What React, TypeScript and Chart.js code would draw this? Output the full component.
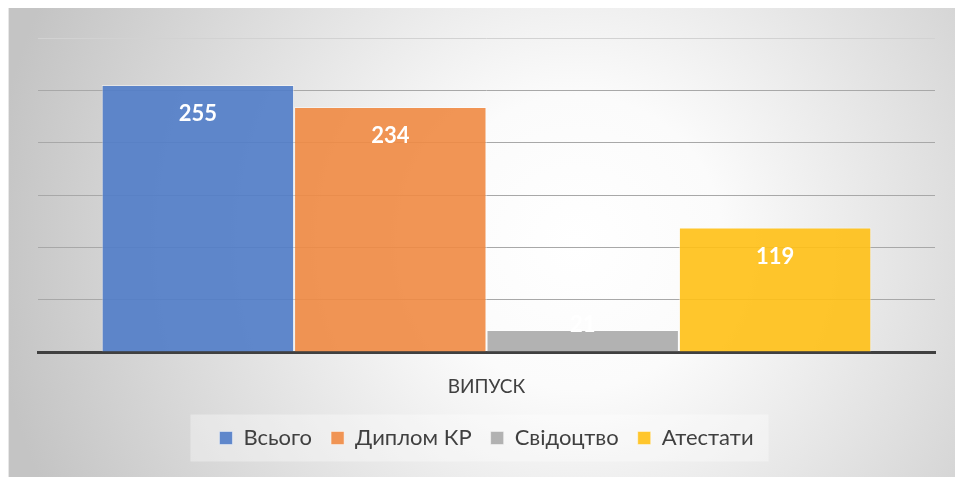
import React, { useEffect, useRef } from 'react';
import { Chart, registerables } from 'chart.js';

Chart.register(...registerables);

const categories = ['ВИПУСК'];
const seriesNames = ['Всього', 'Диплом КР', 'Свідоцтво', 'Атестати'];
const seriesValues = [255, 234, 21, 119];
const seriesColors = [
  'rgba(80,124,200,0.9)',
  'rgba(240,138,67,0.9)',
  'rgba(170,170,170,0.9)',
  'rgba(255,192,21,0.9)',
];
const yMin = 0;
const yMax = 300;
const yStep = 50;

const FONT = 'Lato, "Open Sans", sans-serif';

export default function App() {
  const ref = useRef<HTMLCanvasElement>(null);

  useEffect(() => {
    if (!ref.current) return;

    const bgPlugin = {
      id: 'bgPlugin',
      beforeDraw(chart: any) {
        const { ctx, width, height } = chart;
        ctx.save();
        const cx = width * 0.6;
        const cy = height * 0.5;
        const g = ctx.createRadialGradient(cx, cy, 0, cx, cy, width * 0.62);
        g.addColorStop(0, '#ffffff');
        g.addColorStop(0.25, '#fbfbfb');
        g.addColorStop(1, '#c4c4c4');
        ctx.fillStyle = g;
        ctx.fillRect(0, 0, width, height);
        ctx.fillStyle = 'rgba(255,255,255,0.6)';
        ctx.fillRect(0, 0, 1, height);

        const lg = chart.legend;
        if (lg && lg.legendHitBoxes && lg.legendHitBoxes.length) {
          const hb = lg.legendHitBoxes;
          const first = hb[0];
          const last = hb[hb.length - 1];
          const left = first.left - 29;
          const right = last.left + last.width + 15;
          const cyL = first.top + first.height / 2;
          ctx.fillStyle = 'rgba(255,255,255,0.35)';
          ctx.fillRect(left, cyL - 23.5, right - left, 47);
        }
        ctx.restore();
      },
    };

    const labelPlugin = {
      id: 'labelPlugin',
      afterDatasetsDraw(chart: any) {
        const { ctx } = chart;
        ctx.save();
        ctx.font = `bold 22px ${FONT}`;
        ctx.fillStyle = '#ffffff';
        ctx.textAlign = 'center';
        ctx.textBaseline = 'middle';
        chart.data.datasets.forEach((ds: any, i: number) => {
          const meta = chart.getDatasetMeta(i);
          meta.data.forEach((bar: any, j: number) => {
            const { x, y, base } = bar.getProps(['x', 'y', 'base'], true);
            const h = base - y;
            const ty = h > 40 ? y + 29 : y - 5;
            ctx.fillText(String(ds.data[j]), x, ty);
          });
        });
        ctx.restore();
      },
    };

    const chart = new Chart(ref.current, {
      type: 'bar',
      data: {
        labels: categories,
        datasets: seriesNames.map((name, i) => ({
          label: name,
          data: [seriesValues[i]],
          backgroundColor: seriesColors[i],
          borderColor: 'rgba(255,255,255,0.45)',
          borderWidth: 1,
          categoryPercentage: 0.858,
          barPercentage: 1.0,
        })),
      },
      options: {
        animation: false,
        responsive: true,
        maintainAspectRatio: false,
        layout: { padding: { left: 30, right: 20, top: 30, bottom: 18 } },
        plugins: {
          legend: {
            position: 'bottom',
            labels: {
              boxWidth: 13,
              boxHeight: 13,
              padding: 19,
              color: '#404040',
              font: { family: FONT, size: 22 },
            },
          },
          tooltip: { enabled: false },
        },
        scales: {
          x: {
            grid: { display: false },
            border: { display: true, color: '#404040', width: 3 },
            ticks: {
              color: '#404040',
              font: { family: FONT, size: 19 },
              padding: 15,
            },
            afterFit: (s: any) => {
              s.height = 56;
            },
          },
          y: {
            min: yMin,
            max: yMax,
            ticks: { stepSize: yStep, display: false },
            grid: {
              drawTicks: false,
              color: (c: any) => (c.tick && c.tick.value === yMax ? '#d2d2d2' : '#a8a8a8'),
              lineWidth: 1,
            },
            border: { display: false },
          },
        },
      },
      plugins: [bgPlugin, labelPlugin],
    });

    return () => chart.destroy();
  }, []);

  return (
    <div style={{ position: 'fixed', left: 8, top: 8, width: 947, height: 469 }}>
      <canvas ref={ref} />
    </div>
  );
}
